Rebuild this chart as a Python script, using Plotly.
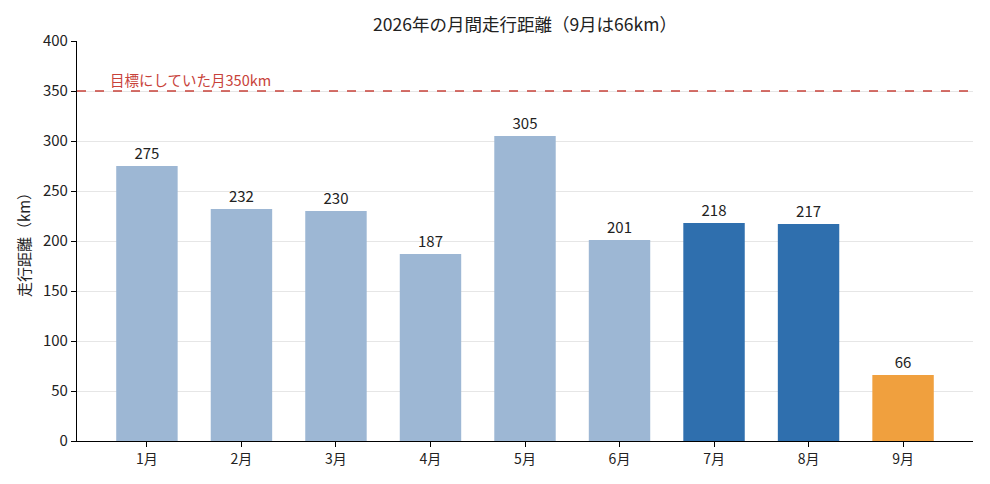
import plotly.graph_objects as go

months = ["1月", "2月", "3月", "4月", "5月", "6月", "7月", "8月", "9月"]
distances = [275, 232, 230, 187, 305, 201, 218, 217, 66]
bar_colors = ["#9db7d4"] * 6 + ["#2f6fae", "#2f6fae", "#f0a03e"]
target = 350
target_label = "目標にしていた月350km"
title = "2026年の月間走行距離（9月は66km）"
y_title = "走行距離（km）"
y_ticks = [0, 50, 100, 150, 200, 250, 300, 350, 400]

font_family = "Noto Sans CJK JP, sans-serif"

x_idx = list(range(len(months)))

fig = go.Figure()
fig.add_trace(go.Bar(
    x=x_idx, y=distances, width=0.65,
    marker=dict(color=bar_colors, line=dict(width=0)),
    text=[str(v) for v in distances], textposition="outside",
    textfont=dict(size=15, color="#222222", family=font_family),
    cliponaxis=False, hoverinfo="skip",
))
fig.add_shape(type="line", xref="paper", yref="y", x0=0, x1=1, y0=target, y1=target,
              line=dict(color="#c8423a", width=1.6, dash="dash"))
fig.add_annotation(xref="x", yref="y", x=-0.41, y=target, text=target_label,
                   showarrow=False, xanchor="left", yanchor="bottom", yshift=-1,
                   font=dict(size=14.5, color="#c8423a", family=font_family))

fig.update_layout(
    width=990, height=484,
    margin=dict(l=77, r=17, t=41, b=43),
    paper_bgcolor="white", plot_bgcolor="white",
    font=dict(family=font_family, size=14, color="#222222"),
    title=dict(text=title, xref="paper", x=0.5, xanchor="center",
               y=1 - 25 / 484, yanchor="middle",
               font=dict(size=17.5, color="#222222")),
    showlegend=False,
    bargap=0.35,
)
fig.update_xaxes(
    range=[-0.74, 8.74], tickmode="array", tickvals=x_idx, ticktext=months,
    showline=True, linecolor="black", linewidth=1.2, ticks="outside", ticklen=5,
    tickcolor="black", showgrid=False, zeroline=False, tickfont=dict(size=14),
)
fig.update_yaxes(
    range=[0, 400], tickvals=y_ticks, showline=True, linecolor="black", linewidth=1.2,
    ticks="outside", ticklen=5, tickcolor="black", showgrid=True,
    gridcolor="rgba(200,200,200,0.45)", gridwidth=1, zeroline=False,
    layer="above traces", tickfont=dict(size=15),
    title=dict(text=y_title, font=dict(size=15), standoff=8),
)
fig.write_html("out.html")
